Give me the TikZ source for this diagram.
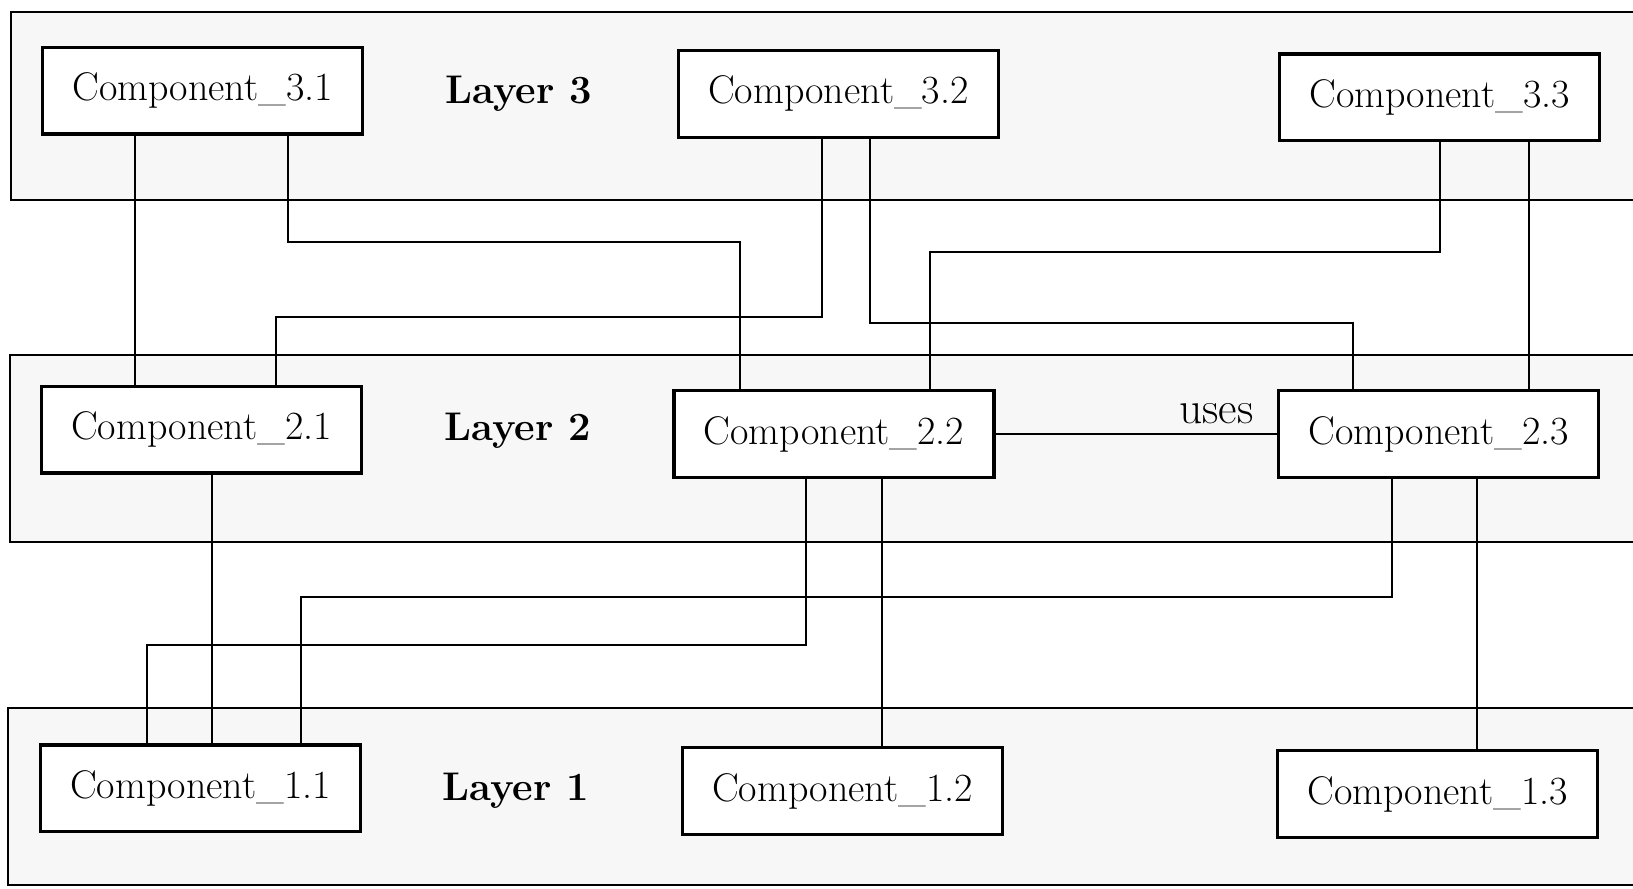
\documentclass[tikz,border=0pt]{standalone}
\usepackage{fontspec}

\tikzset{every picture/.style={line width=1.8pt}}
\tikzset{
  layerbox/.style={draw, line width=1.8pt, fill=black!3},
  comp/.style={draw, line width=2.4pt, fill=white, minimum width=240pt, minimum height=65pt,
    inner sep=0pt, font=\fontsize{30}{36}\selectfont},
  layerlbl/.style={inner sep=0pt, font=\fontsize{30}{36}\selectfont\bfseries},
  wire/.style={line width=1.8pt}
}

\begin{document}
\begin{tikzpicture}[x=0.75pt,y=0.75pt,yscale=-1,xscale=1]
\useasboundingbox (0,0) rectangle (1633,888);
\clip (0,0) rectangle (1633,888);

%Shape: Rectangle [layer 3]
\draw[layerbox] (11,12) rectangle (1660,200);
%Shape: Rectangle [layer 2]
\draw[layerbox] (10,355) rectangle (1660,542);
%Shape: Rectangle [layer 1]
\draw[layerbox] (8,708) rectangle (1660,885);

% Layer 3
\node[comp] (C31) at (202.6,90.7) {Component\_3.1};
\node[comp] (C32) at (838.4,93.8) {Component\_3.2};
\node[comp] (C33) at (1439.5,97.3) {Component\_3.3};
% Layer 2
\node[comp] (C21) at (201.5,429.6) {Component\_2.1};
\node[comp] (C22) at (834,434) {Component\_2.2};
\node[comp] (C23) at (1438.5,434) {Component\_2.3};
% Layer 1
\node[comp] (C11) at (200.5,788.3) {Component\_1.1};
\node[comp] (C12) at (842.5,791) {Component\_1.2};
\node[comp] (C13) at (1437.5,794.2) {Component\_1.3};

% Text Node
\node[layerlbl] (L3) at (519,94) {Layer 3};
% Text Node
\node[layerlbl] (L2) at (518,431) {Layer 2};
% Text Node
\node[layerlbl] (L1) at (516,791) {Layer 1};

%Straight Lines [3 -> 2]
\draw[wire] (C31.south -| 135,0) -- (C21.north -| 135,0);
\draw[wire] (C31.south -| 288,0) |- (740,242) -- (C22.north -| 740,0);
\draw[wire] (C32.south -| 822,0) |- (276,317) -- (C21.north -| 276,0);
\draw[wire] (C32.south -| 870,0) |- (1353,323) -- (C23.north -| 1353,0);
\draw[wire] (C33.south -| 1440,0) |- (930,252) -- (C22.north -| 930,0);
\draw[wire] (C33.south -| 1529,0) -- (C23.north -| 1529,0);

%Straight Lines [2 -> 2]
\draw[wire] (C22.east) -- (C23.west)
  node[pos=0.785, above=7pt, inner sep=0pt, font=\fontsize{34}{40}\selectfont] (uses) {uses};

%Straight Lines [2 -> 1]
\draw[wire] (C21.south -| 212,0) -- (C11.north -| 212,0);
\draw[wire] (C22.south -| 806,0) |- (147,645) -- (C11.north -| 147,0);
\draw[wire] (C23.south -| 1392,0) |- (301,597) -- (C11.north -| 301,0);
\draw[wire] (C22.south -| 882,0) -- (C12.north -| 882,0);
\draw[wire] (C23.south -| 1477,0) -- (C13.north -| 1477,0);

\end{tikzpicture}
\end{document}
